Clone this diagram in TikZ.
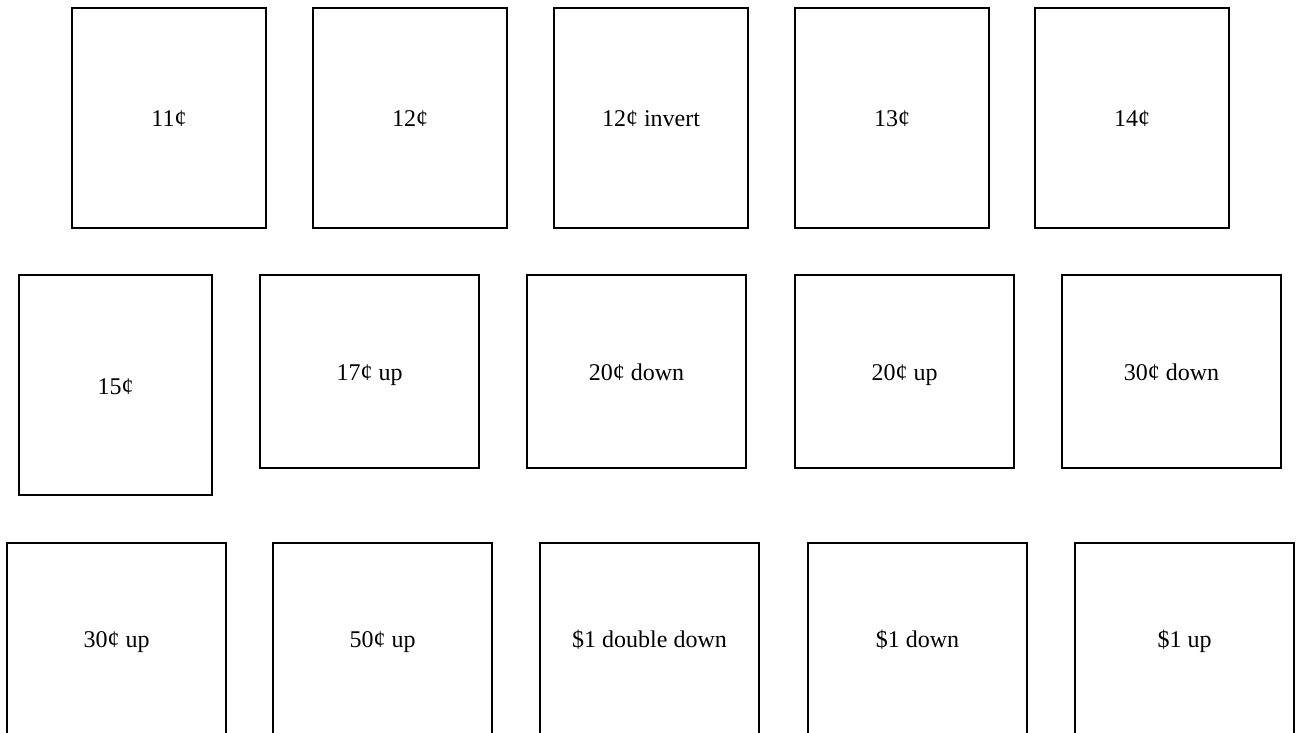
\documentclass[tikz,border=0pt]{standalone}
\usepackage{fontspec}
\setmainfont{Liberation Serif}
\usepackage{tikz}
\usetikzlibrary{positioning}

\tikzset{
  stamp/.style={draw=black, line width=2.3pt, rectangle, inner sep=0pt,
    text height=18pt, text depth=0pt,
    font=\fontsize{24}{28}\selectfont},
  tallstamp/.style={stamp, minimum width=194pt, minimum height=220pt},
  widestamp/.style={stamp, minimum width=219pt, minimum height=193pt},
  lowstamp/.style={stamp, minimum width=219pt, minimum height=200pt,
    text depth=10pt}
}

\begin{document}
\begin{tikzpicture}[x=1pt, y=-1pt]

  % page frame (same proportions as the sheet)
  \useasboundingbox (0,0) rectangle (1299,733);
  \clip (0,0) rectangle (1299,733);

  % first row
  \node[tallstamp] (c11) at (169,118) {11¢};
  \node[tallstamp] (c12) at (410,118) {12¢};
  \node[tallstamp] (c12inv) at (651,118) {12¢ invert};
  \node[tallstamp] (c13) at (892,118) {13¢};
  \node[tallstamp] (c14) at (1132,118) {14¢};

  % second row
  \node[tallstamp, minimum width=193pt] (c15) at (115.5,385) {15¢};
  \node[widestamp] (c17up) at (369.5,371.5) {17¢ up};
  \node[widestamp] (c20down) at (636.5,371.5) {20¢ down};
  \node[widestamp] (c20up) at (904.5,371.5) {20¢ up};
  \node[widestamp] (c30down) at (1171.5,371.5) {30¢ down};

  % third row (runs off the bottom edge)
  \node[lowstamp] (c30up) at (116.5,643) {30¢ up};
  \node[lowstamp] (c50up) at (382.5,643) {50¢ up};
  \node[lowstamp] (d1ddown) at (649.5,643) {\$1 double down};
  \node[lowstamp] (d1down) at (917.5,643) {\$1 down};
  \node[lowstamp] (d1up) at (1184.5,643) {\$1 up};

\end{tikzpicture}
\end{document}
